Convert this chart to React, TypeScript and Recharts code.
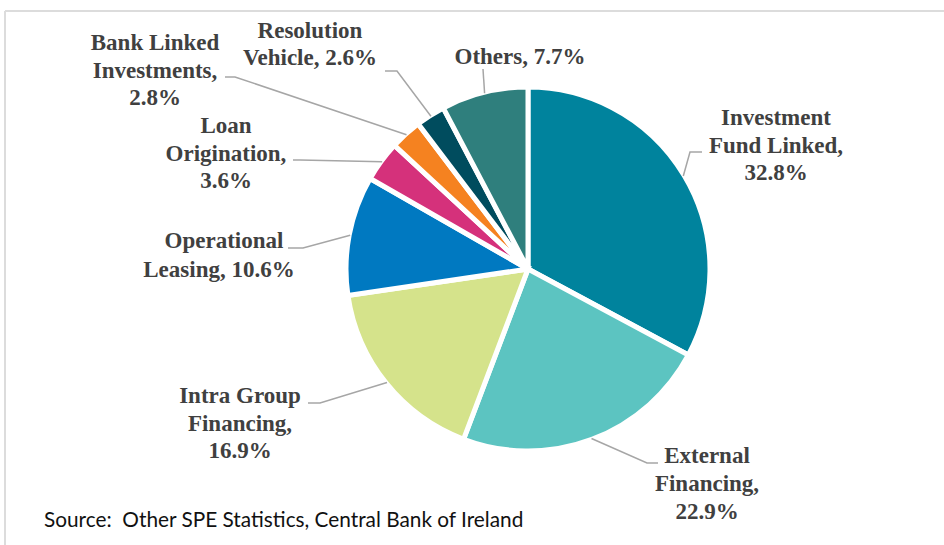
import React from "react";
import { PieChart, Pie, Cell } from "recharts";

// ---- data ----
const categories = [
  "Investment Fund Linked",
  "External Financing",
  "Intra Group Financing",
  "Operational Leasing",
  "Loan Origination",
  "Bank Linked Investments",
  "Resolution Vehicle",
  "Others",
];
const shares = [32.8, 22.9, 16.9, 10.6, 3.6, 2.8, 2.6, 7.7];
// label wording as wrapped in the reference ("{v}" = the share)
const labelTexts = [
  ["Investment", "Fund Linked,", "{v}"],
  ["External", "Financing,", "{v}"],
  ["Intra Group", "Financing,", "{v}"],
  ["Operational", "Leasing, {v}"],
  ["Loan", "Origination,", "{v}"],
  ["Bank Linked", "Investments,", "{v}"],
  ["Resolution", "Vehicle, {v}"],
  ["Others, {v}"],
];
const sourceText = "Source:  Other SPE Statistics, Central Bank of Ireland";

// ---- styles / layout ----
const colors = [
  "#00839D",
  "#5CC4C1",
  "#D5E38B",
  "#0079C1",
  "#D5317B",
  "#F58220",
  "#004C5E",
  "#2F7F7D",
];
// label placement: line centres, first baseline, line height, leader elbow & end
const labelLayout = [
  { xs: [776, 776, 776], y: 125, lh: 27.5, elbow: [690, 152], end: [702, 152] },
  { xs: [707, 707, 707], y: 463, lh: 28, elbow: [647, 463], end: [658, 463] },
  { xs: [240, 240, 240], y: 403, lh: 27.5, elbow: [320, 403], end: [308, 403] },
  { xs: [224, 219], y: 248, lh: 28.5, elbow: [303, 248], end: [288, 248] },
  { xs: [226, 226, 226], y: 133, lh: 27.5, elbow: [300, 160], end: [293, 160] },
  { xs: [155, 155, 155], y: 50, lh: 27.5, elbow: [235, 77], end: [225, 77] },
  { xs: [310, 310], y: 38, lh: 27, elbow: [397, 71], end: [385, 71] },
  { xs: [520], y: 64, lh: 27, elbow: [483, 69], end: [483, 69] },
];

const data = categories.map((name, i) => ({ name, value: shares[i] }));
const RADIAN = Math.PI / 180;
const CX = 528;
const CY = 269;
const R = 182;

const renderLabel = (props: any) => {
  const { cx, cy, midAngle, outerRadius, index } = props;
  const lay = labelLayout[index];
  const r = outerRadius - 1;
  const sx = cx + r * Math.cos(-midAngle * RADIAN);
  const sy = cy + r * Math.sin(-midAngle * RADIAN);
  const vText = `${shares[index].toFixed(1)}%`;
  const lines = labelTexts[index].map((t) => t.replace("{v}", vText));
  return (
    <g key={`lbl-${index}`}>
      <polyline
        points={`${sx},${sy} ${lay.elbow[0]},${lay.elbow[1]} ${lay.end[0]},${lay.end[1]}`}
        fill="none"
        stroke="#A6A6A6"
        strokeWidth={1.5}
      />
      {lines.map((t, j) => (
        <text
          key={j}
          x={lay.xs[j]}
          y={lay.y + j * lay.lh}
          textAnchor="middle"
          fill="#404040"
          fontFamily="'Liberation Serif', 'Times New Roman', serif"
          fontWeight="bold"
          fontSize={23}
        >
          {t}
        </text>
      ))}
    </g>
  );
};

export default function App() {
  return (
    <div
      style={{
        position: "absolute",
        left: 0,
        top: 0,
        width: 944,
        height: 545,
        overflow: "hidden",
        background: "#fff",
      }}
    >
      <svg
        width={944}
        height={545}
        style={{ position: "absolute", left: 0, top: 0 }}
      >
        <line x1={5} y1={11} x2={944} y2={11} stroke="#DCDCDC" strokeWidth={2} />
        <line x1={5} y1={11} x2={5} y2={545} stroke="#DCDCDC" strokeWidth={2} />
      </svg>
      <div style={{ position: "absolute", left: 0, top: 0 }}>
        <PieChart
          width={944}
          height={545}
          margin={{ top: 0, right: 0, bottom: 0, left: 0 }}
        >
          <Pie
            data={data}
            dataKey="value"
            nameKey="name"
            cx={CX}
            cy={CY}
            outerRadius={R}
            startAngle={90}
            endAngle={-270}
            stroke="#FFFFFF"
            strokeWidth={5}
            label={renderLabel}
            labelLine={false}
            isAnimationActive={false}
          >
            {data.map((d, i) => (
              <Cell key={d.name} fill={colors[i]} />
            ))}
          </Pie>
        </PieChart>
      </div>
      <svg
        width={944}
        height={545}
        style={{ position: "absolute", left: 0, top: 0, pointerEvents: "none" }}
      >
        <text
          x={44}
          y={527}
          fill="#111"
          fontFamily="Lato, 'Open Sans', sans-serif"
          fontSize={20.8}
          style={{ whiteSpace: "pre" }}
        >
          {sourceText}
        </text>
      </svg>
    </div>
  );
}
